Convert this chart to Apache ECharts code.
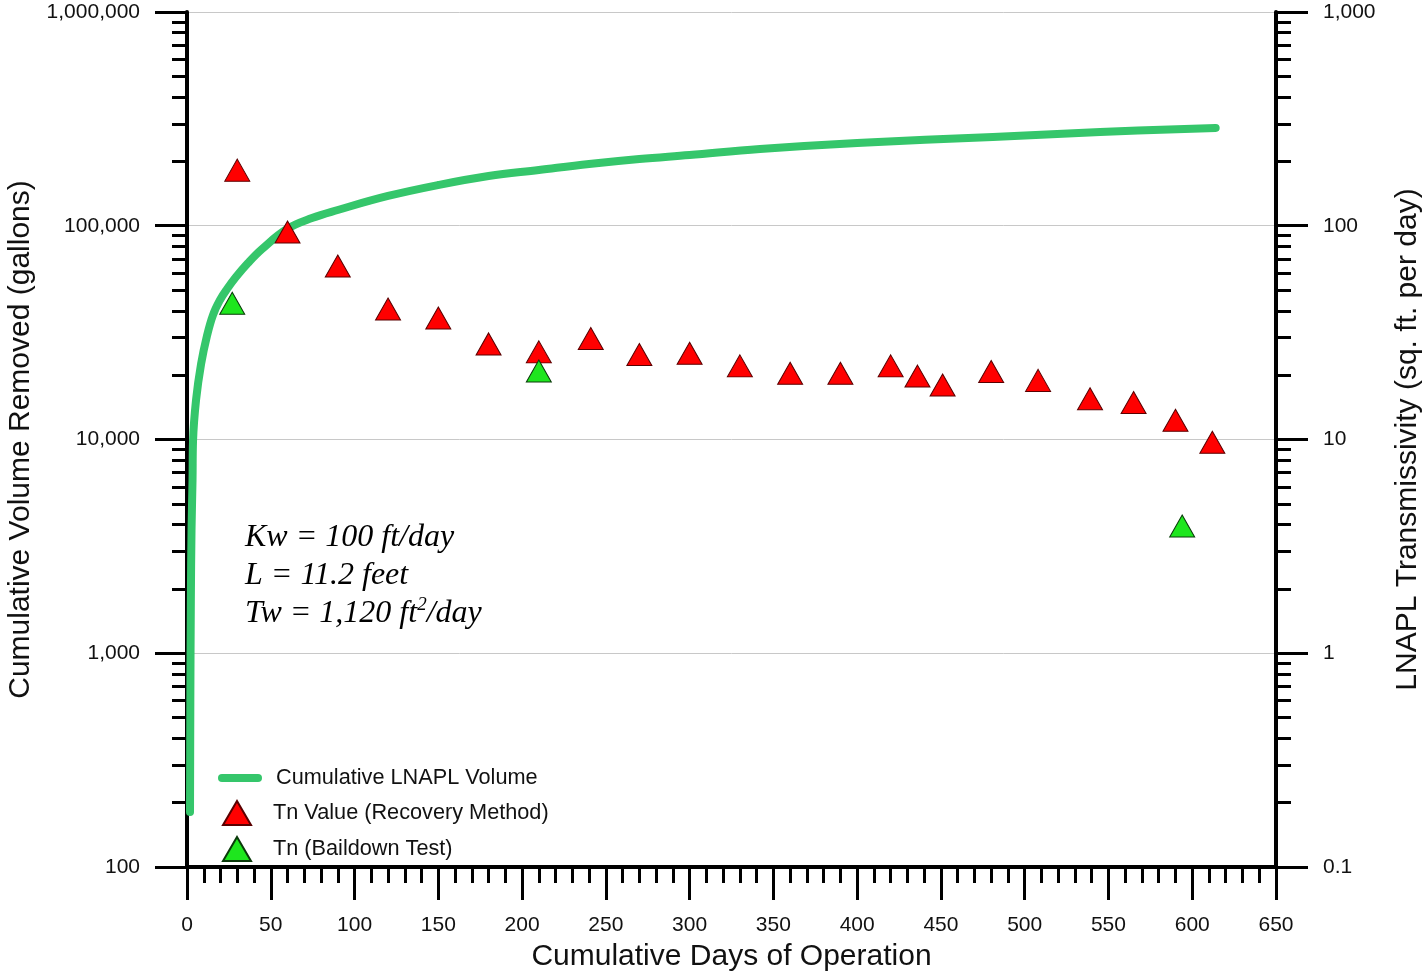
<!DOCTYPE html>
<html>
<head>
<meta charset="utf-8">
<script src="https://cdn.jsdelivr.net/npm/echarts@6/dist/echarts.min.js"></script>
<style>
html,body{margin:0;padding:0;background:#fff;width:100%;height:100%;overflow:hidden;}
#chart{width:1425px;height:971px;}
</style>
</head>
<body>
<div id="chart"></div>
<script>
// ---- data ----
const volDays = [1.8, 2.0, 2.3, 2.7, 3.3, 3.6, 5.4, 8.4, 11.9, 15.5, 19.7, 23.9, 29.2, 36.4, 44.8, 59.7, 74.6, 90, 120, 150, 180, 210, 240, 270, 300, 342, 400, 481, 545, 614];
const volGallons = [181, 604, 1775, 3770, 6460, 9840, 15300, 22550, 30500, 38230, 44950, 50600, 57570, 66940, 77850, 96560, 108700, 118500, 137800, 155100, 170900, 182300, 194400, 205200, 214300, 228600, 243900, 260200, 274600, 286700];

const recDays = [30, 60, 90, 120, 150, 180, 210, 241, 270, 300, 330, 360, 390, 420, 436, 451, 480, 508, 539, 565, 590, 612];
const recTn = [182, 93.5, 64.8, 40.8, 37.0, 28.0, 25.7, 29.7, 25.0, 25.3, 22.1, 20.4, 20.4, 22.1, 19.8, 18.0, 20.8, 18.9, 15.5, 14.9, 12.3, 9.7];

const bdDays = [27, 210, 594];
const bdTn = [43.4, 20.9, 3.94];

const leftMajor = [100, 1000, 10000, 100000, 1000000];
const rightMajor = [0.1, 1, 10, 100, 1000];
const minorMult = [2, 3, 4, 5, 6, 7, 8, 9];

const names = {
  line: 'Cumulative LNAPL Volume',
  rec: 'Tn Value (Recovery Method)',
  bd: 'Tn (Baildown Test)'
};

function minorsOf(majors) {
  const out = [];
  for (let i = 0; i < majors.length - 1; i++) {
    for (const m of minorMult) out.push(+(majors[i] * m).toPrecision(6));
  }
  return out;
}
const fmt = v => Number((+v).toPrecision(6)).toLocaleString('en-US', {maximumFractionDigits: 3});

const FONT = '"Liberation Sans", Arial, sans-serif';
const labelStyle = {color: '#111', fontSize: 21, fontFamily: FONT};
const legendText = {color: '#111', fontSize: 21.7, fontFamily: FONT};
const nameStyle = {color: '#111', fontSize: 30, fontFamily: FONT};

const chart = echarts.init(document.getElementById('chart'), null, {renderer: 'canvas'});

function majorY(pos, min, max, majors, title, gap) {
  return {
    type: 'log', logBase: 10, min: min, max: max, position: pos,
    axisLine: {show: true, onZero: false, lineStyle: {color: '#000', width: 4}},
    axisTick: {show: true, inside: false, length: 32, customValues: majors, lineStyle: {color: '#000', width: 3}},
    minorTick: {show: false},
    axisLabel: {show: true, customValues: majors, formatter: fmt, margin: 47, ...labelStyle},
    splitLine: {show: pos === 'left', lineStyle: {color: '#c8c8c8', width: 1}},
    minorSplitLine: {show: false},
    name: title, nameLocation: 'middle', nameGap: gap, nameRotate: 90,
    nameTextStyle: nameStyle
  };
}
function minorY(pos, min, max, majors) {
  return {
    type: 'log', logBase: 10, min: min, max: max, position: pos,
    axisLine: {show: false, onZero: false},
    axisTick: {show: true, inside: false, length: 15, customValues: minorsOf(majors), lineStyle: {color: '#000', width: 3}},
    axisLabel: {show: false},
    splitLine: {show: false},
    minorSplitLine: {show: false}
  };
}

const option = {
  backgroundColor: '#fff',
  animation: false,
  textStyle: {fontFamily: FONT},
  grid: {left: 187, right: 149, top: 12, bottom: 104, containLabel: false, outerBoundsMode: 'none'},
  xAxis: {
    type: 'value', min: 0, max: 650, interval: 50,
    axisLine: {show: true, onZero: false, lineStyle: {color: '#000', width: 4}},
    axisTick: {show: true, inside: false, length: 33, lineStyle: {color: '#000', width: 3}},
    minorTick: {show: true, splitNumber: 5, length: 16, lineStyle: {color: '#000', width: 3}},
    axisLabel: {margin: 48, ...labelStyle},
    splitLine: {show: false},
    minorSplitLine: {show: false},
    name: 'Cumulative Days of Operation', nameLocation: 'middle', nameGap: 75,
    nameTextStyle: nameStyle
  },
  yAxis: [
    majorY('left', 100, 1000000, leftMajor, 'Cumulative Volume Removed (gallons)', 151),
    majorY('right', 0.1, 1000, rightMajor, 'LNAPL Transmissivity (sq. ft. per day)', 117),
    minorY('left', 100, 1000000, leftMajor),
    minorY('right', 0.1, 1000, rightMajor)
  ],
  legend: [
    {
      data: [names.line], left: 218, top: 767, padding: 0,
      icon: 'path://M4,0 L40,0 A4,4 0 0 1 40,8 L4,8 A4,4 0 0 1 4,0 Z',
      itemWidth: 44, itemHeight: 9,
      textStyle: {...legendText, padding: [0, 0, 0, 9]}, selectedMode: false
    },
    {
      data: [names.rec], left: 222, top: 800, padding: 0,
      icon: 'triangle', itemWidth: 28, itemHeight: 24,
      textStyle: {...legendText, padding: [0, 0, 0, 17]}, selectedMode: false
    },
    {
      data: [names.bd], left: 222, top: 836, padding: 0,
      icon: 'triangle', itemWidth: 28, itemHeight: 24,
      textStyle: {...legendText, padding: [0, 0, 0, 17]}, selectedMode: false
    }
  ],
  graphic: [{
    type: 'text', left: 245, top: 519, z: 10,
    style: {
      text: 'Kw = 100 ft/day\nL = 11.2 feet\nTw = 1,120 ft{sup|2}/day',
      fill: '#000',
      font: 'italic 32px "Liberation Serif", "Times New Roman", serif',
      lineHeight: 38,
      rich: {
        sup: {fontSize: 19, fontStyle: 'italic', fontFamily: '"Liberation Serif", serif', verticalAlign: 'top', lineHeight: 32, fill: '#000'}
      }
    }
  }],
  series: [
    {
      name: names.line, type: 'line', xAxisIndex: 0, yAxisIndex: 0,
      data: volDays.map((d, i) => [d, volGallons[i]]),
      showSymbol: false, smooth: 0.4, z: 2,
      lineStyle: {color: '#35c66b', width: 8, cap: 'round', join: 'round'},
      itemStyle: {color: '#35c66b'}
    },
    {
      name: names.rec, type: 'scatter', xAxisIndex: 0, yAxisIndex: 1,
      data: recDays.map((d, i) => [d, recTn[i]]),
      symbol: 'triangle', symbolSize: [25, 22], z: 3,
      itemStyle: {color: '#ff0000', borderColor: '#5a0000', borderWidth: 1, opacity: 1}
    },
    {
      name: names.bd, type: 'scatter', xAxisIndex: 0, yAxisIndex: 1,
      data: bdDays.map((d, i) => [d, bdTn[i]]),
      symbol: 'triangle', symbolSize: [25, 22], z: 3,
      itemStyle: {color: '#1ee61e', borderColor: '#0a3a0a', borderWidth: 1, opacity: 1}
    }
  ]
};
chart.setOption(option);
</script>
</body>
</html>
